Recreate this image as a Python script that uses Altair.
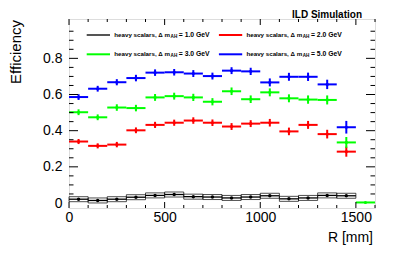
import altair as alt
import pandas as pd

# ---------------- data ----------------
bin_lo = [0, 100, 200, 300, 400, 500, 600, 700, 800, 900, 1000, 1100, 1200, 1300, 1400, 1500]
bin_hi = [100, 200, 300, 400, 500, 600, 700, 800, 900, 1000, 1100, 1200, 1300, 1400, 1500, 1600]
bin_mid = [50, 150, 250, 350, 450, 550, 650, 750, 850, 950, 1050, 1150, 1250, 1350, 1450, 1550]

eff_dm1 = [0.021, 0.014, 0.021, 0.032, 0.042, 0.047, 0.035, 0.033, 0.028, 0.033, 0.040, 0.023, 0.028, 0.042, 0.040]
err_dm1 = [0.004, 0.004, 0.004, 0.004, 0.004, 0.004, 0.004, 0.004, 0.004, 0.004, 0.004, 0.004, 0.004, 0.005, 0.005]

eff_dm2 = [0.340, 0.316, 0.323, 0.402, 0.432, 0.444, 0.456, 0.444, 0.423, 0.439, 0.444, 0.396, 0.432, 0.381, 0.284]
err_dm2 = [0.014, 0.014, 0.015, 0.016, 0.017, 0.017, 0.018, 0.018, 0.019, 0.019, 0.021, 0.021, 0.022, 0.024, 0.028]

eff_dm3 = [0.502, 0.474, 0.528, 0.525, 0.584, 0.591, 0.584, 0.560, 0.618, 0.574, 0.612, 0.579, 0.572, 0.570, 0.335, 0.003]
err_dm3 = [0.016, 0.016, 0.018, 0.018, 0.019, 0.019, 0.020, 0.020, 0.021, 0.021, 0.022, 0.022, 0.023, 0.025, 0.030, 0.0]

eff_dm5 = [0.586, 0.632, 0.668, 0.691, 0.721, 0.723, 0.716, 0.702, 0.732, 0.728, 0.667, 0.698, 0.698, 0.656, 0.419]
err_dm5 = [0.016, 0.016, 0.017, 0.018, 0.018, 0.018, 0.019, 0.019, 0.019, 0.020, 0.022, 0.022, 0.023, 0.026, 0.035]

legend_mass = ["1.0", "2.0", "3.0", "5.0"]
legend_colors = ["#555555", "#ff0000", "#00ff00", "#0000ff"]

x_major = [0, 500, 1000, 1500]
x_minor = [100, 200, 300, 400, 600, 700, 800, 900, 1100, 1200, 1300, 1400, 1600]
y_major = [0.2, 0.4, 0.6, 0.8]
y_minor = [0.05, 0.1, 0.15, 0.25, 0.3, 0.35, 0.45, 0.5, 0.55, 0.65, 0.7, 0.75, 0.85, 0.9, 0.95]

W, H = 306, 189
FONT = "Liberation Sans"


def series_df(vals, errs):
    n = len(vals)
    return pd.DataFrame({
        "lo": bin_lo[:n], "hi": bin_hi[:n], "mid": bin_mid[:n],
        "eff": vals,
        "elo": [v - e for v, e in zip(vals, errs)],
        "ehi": [v + e for v, e in zip(vals, errs)],
    })


xs = alt.Scale(domain=[0, 1600], nice=False, zero=False)
ys = alt.Scale(domain=[0, 0.99], nice=False, zero=False)
xaxis = alt.Axis(values=x_major, ticks=False, domain=False, grid=False, labelFontSize=14,
                 labelPadding=2, labelFont=FONT, labelColor="black", title=None, labelFlush=False,
                 labelExpr="format(datum.value, 'd')")
yaxis = alt.Axis(values=[0] + y_major, ticks=False, domain=False, grid=False, labelFontSize=14,
                 labelPadding=7, labelFont=FONT, labelColor="black", title=None,
                 labelExpr="datum.value == 0 ? '0' : format(datum.value, '.1f')")


def X(f):
    return alt.X(f"{f}:Q", scale=xs, axis=xaxis)


def Y(f):
    return alt.Y(f"{f}:Q", scale=ys, axis=yaxis)


layers = []

# black histogram (dm = 1.0)
d1 = series_df(eff_dm1, err_dm1)
layers.append(alt.Chart(d1).mark_bar(fillOpacity=0, stroke="black", strokeWidth=0.7,
                                     cornerRadius=0).encode(
    x=X("lo"), x2=alt.X2("hi"), y=Y("eff")))
layers.append(alt.Chart(d1).mark_rule(color="black", strokeWidth=1.3).encode(
    x=X("lo"), x2=alt.X2("hi"), y=Y("eff")))
layers.append(alt.Chart(d1).mark_rule(color="black", strokeWidth=1).encode(
    x=X("mid"), y=Y("elo"), y2=alt.Y2("ehi")))
layers.append(alt.Chart(d1).mark_circle(color="black", size=12, opacity=1).encode(
    x=X("mid"), y=Y("eff")))

for vals, errs, col in [(eff_dm2, err_dm2, "#ff0000"), (eff_dm3, err_dm3, "#00ff00"),
                        (eff_dm5, err_dm5, "#0000ff")]:
    d = series_df(vals, errs)
    layers.append(alt.Chart(d).mark_rule(color=col, strokeWidth=2).encode(
        x=X("lo"), x2=alt.X2("hi"), y=Y("eff")))
    layers.append(alt.Chart(d).mark_rule(color=col, strokeWidth=2).encode(
        x=X("mid"), y=Y("elo"), y2=alt.Y2("ehi")))
    layers.append(alt.Chart(d).mark_circle(color=col, size=10, opacity=1).encode(
        x=X("mid"), y=Y("eff")))

# inside ticks (ROOT style) on all four sides
dxM = pd.DataFrame({"v": x_major})
dxm = pd.DataFrame({"v": x_minor})
dyM = pd.DataFrame({"v": y_major})
dym = pd.DataFrame({"v": y_minor})
for d, L in [(dxM, 6), (dxm, 3)]:
    layers.append(alt.Chart(d).mark_rule(color="black", strokeWidth=1).encode(
        x=X("v"), y=alt.value(H), y2=alt.value(H - L)))
    layers.append(alt.Chart(d).mark_rule(color="black", strokeWidth=1).encode(
        x=X("v"), y=alt.value(0), y2=alt.value(L)))
for d, L in [(dyM, 9), (dym, 4.5)]:
    layers.append(alt.Chart(d).mark_rule(color="black", strokeWidth=1).encode(
        y=Y("v"), x=alt.value(0), x2=alt.value(L)))
    layers.append(alt.Chart(d).mark_rule(color="black", strokeWidth=1).encode(
        y=Y("v"), x=alt.value(W), x2=alt.value(W - L)))

# legend
one = pd.DataFrame({"k": [0]})
for i, (m, c) in enumerate(zip(legend_mass, legend_colors)):
    col, row = i % 2, i // 2
    ox = col * 132.2
    yy = 16 + row * 19.3
    layers.append(alt.Chart(one).mark_rule(color=c, strokeWidth=2).encode(
        x=alt.value(17.7 + ox), x2=alt.value(41 + ox), y=alt.value(yy)))
    for txt, tx, fs, dy in [("heavy scalars, Δ m", 45.3, 6.2, 0),
                            ("AH", 101.6, 4.6, 2),
                            ("= " + m + " GeV", 109.8, 6.8, 0)]:
        layers.append(alt.Chart(pd.DataFrame({"t": [txt]})).mark_text(
            font=FONT, fontSize=fs, fontWeight="bold", align="left", baseline="middle",
            color="black", dy=dy).encode(text="t:N", x=alt.value(tx + ox), y=alt.value(yy)))

# titles
layers.append(alt.Chart(pd.DataFrame({"t": ["Efficiency"]})).mark_text(
    font=FONT, fontSize=15, angle=270, align="right", baseline="alphabetic", color="black").encode(
    text="t:N", x=alt.value(-48.5), y=alt.value(1)))
layers.append(alt.Chart(pd.DataFrame({"t": ["R [mm]"]})).mark_text(
    font=FONT, fontSize=14, align="right", baseline="alphabetic", color="black").encode(
    text="t:N", x=alt.value(304), y=alt.value(222.7)))
layers.append(alt.Chart(pd.DataFrame({"t": ["ILD Simulation"]})).mark_text(
    font=FONT, fontSize=10, fontWeight="bold", align="right", baseline="alphabetic", color="black").encode(
    text="t:N", x=alt.value(293), y=alt.value(-1.5)))

chart = alt.layer(*layers).properties(
    width=W, height=H,
    autosize=alt.AutoSizeParams(type="none"),
    padding={"left": 61, "top": 11, "right": 20, "bottom": 38},
).configure_view(stroke="black", strokeWidth=1).configure(background="white")

chart.save("out.html", embed_options={"renderer": "svg", "actions": False})
